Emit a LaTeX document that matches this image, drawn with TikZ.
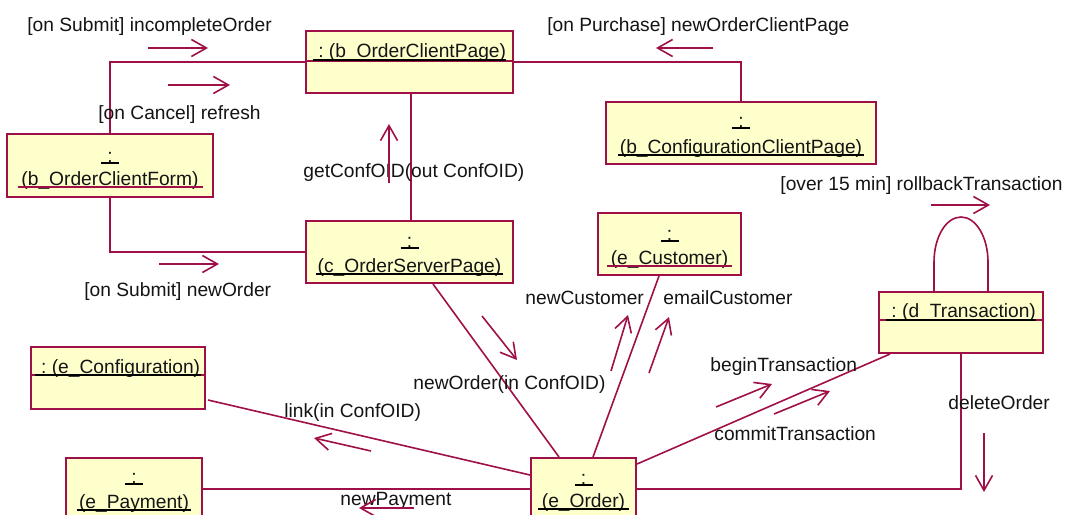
\documentclass[tikz,border=0pt]{standalone}
\usepackage{fontspec}
\setmainfont{Liberation Sans}
\usetikzlibrary{arrows.meta,calc}
\definecolor{umlred}{RGB}{160,16,72}
\definecolor{umlfill}{RGB}{255,255,204}
\definecolor{txt}{RGB}{20,20,20}
\begin{document}
\begin{tikzpicture}[x=0.5pt,y=-0.5pt,
  obj/.style={draw=umlred, fill=umlfill, line width=1pt, inner sep=0pt, anchor=center},
  lbl/.style={font=\fontsize{9.6}{11}\selectfont, text=txt, inner sep=0pt, anchor=base west},
  ttl/.style={font=\fontsize{9.6}{11}\selectfont, text=txt, inner sep=0pt, anchor=base},
  conn/.style={draw=umlred, line width=0.8pt},
  sep/.style={draw=umlred, line width=0.9pt},
  msg/.style={draw=umlred, line width=0.8pt, -{Straight Barb[length=7.5pt,width=8.5pt]}},
  ul/.style={line width=0.9pt, draw=black},
  ulr/.style={line width=0.9pt, draw=umlred},
]
\useasboundingbox (0,0) rectangle (1074,514);
\clip (0,0) rectangle (1074,514);
\fill[white] (0,0) rectangle (1074,514);

% ---------------- objects ----------------
\node[obj, minimum width=103.5pt, minimum height=31pt] (bocp) at (409.5,62) {};
\node[obj, minimum width=135pt, minimum height=31pt] (bccp) at (741,133) {};
\node[obj, minimum width=103pt, minimum height=31.5pt] (bocf) at (110,165.5) {};
\node[obj, minimum width=103.5pt, minimum height=31pt] (cosp) at (409.5,252) {};
\node[obj, minimum width=71.5pt, minimum height=31pt] (ecust) at (669.5,244) {};
\node[obj, minimum width=82pt, minimum height=30.5pt] (dtr) at (961,322.5) {};
\node[obj, minimum width=87pt, minimum height=31pt] (econf) at (118,378) {};
\node[obj, minimum width=68pt, minimum height=31pt] (epay) at (134,489) {};
\node[obj, minimum width=52.5pt, minimum height=31pt] (eord) at (583.5,489) {};

% ---------------- links ----------------
\draw[conn] (bocp.west) -| (bocf.north);
\draw[conn] (bocf.south) |- (cosp.west);
\draw[conn] (bocp.east) -| (bccp.north);
\draw[conn] ($(bocp.south)+(1.5,0)$) -- ($(cosp.north)+(1.5,0)$);
\draw[conn] ($(cosp.south)+(23.5,0)$) -- ($(eord.north)+(-24.5,0)$);
\draw[conn] ($(ecust.south)+(-10.5,0)$) -- ($(eord.north)+(9.5,0)$);
\draw[conn] ($(econf.south east)+(2,-10)$) -- ($(eord.north west)+(0,18)$);
\draw[conn] (epay.east) -- (eord.west);
\draw[conn] (eord.east) -| (dtr.south);
\draw[conn] ($(eord.north east)+(0,7)$) -- ($(dtr.south west)+(12,0)$);
\draw[conn] ($(dtr.north)+(-27,0)$) -- ++(0,-29)
  arc[start angle=180, end angle=360, x radius=27, y radius=45] -- ($(dtr.north)+(27,0)$);

% ---------------- compartment separators ----------------
\draw[sep] ($(bocp.north west)+(0,31)$) -- ($(bocp.north east)+(0,31)$);
\draw[sep] ($(dtr.north west)+(0,29)$) -- ($(dtr.north east)+(0,29)$);
\draw[sep] ($(econf.north west)+(0,29)$) -- ($(econf.north east)+(0,29)$);

% ---------------- object titles ----------------
\node[ttl] (bocpT) at (409.5,57) {\ :\ (b\_OrderClientPage)};
\draw[ul] ($(bocpT.base west)+(0,3)$) -- ($(bocpT.base east)+(0,3)$);

\node[ttl] (dtrT) at (961,317) {\ :\ (d\_Transaction)};
\draw[ul] ($(dtrT.base west)+(0,3)$) -- ($(dtrT.base east)+(0,3)$);

\node[ttl] (econfT) at (118,373) {\ :\ (e\_Configuration)};
\draw[ul] ($(econfT.base west)+(0,2)$) -- ($(econfT.base east)+(0,2)$);

\node[ttl] (bccpC) at (741,127) {:};
\draw[ul] ($(bccpC.base)+(-9,1)$) -- ($(bccpC.base)+(9,1)$);
\node[ttl] (bccpT) at (741,153) {(b\_ConfigurationClientPage)};
\draw[ul] ($(bccpT.base west)+(-1,2)$) -- ($(bccpT.base east)+(1,2)$);

\node[ttl] (bocfC) at (110,162) {:};
\draw[ul] ($(bocfC.base)+(-9,1)$) -- ($(bocfC.base)+(9,1)$);
\node[ttl] (bocfT) at (110,185) {(b\_OrderClientForm)};
\draw[ulr] ($(bocfT.base west)+(-3,2)$) -- ($(bocfT.base east)+(4,2)$);

\node[ttl] (cospC) at (409.5,247) {:};
\draw[ul] ($(cospC.base)+(-9,1)$) -- ($(cospC.base)+(9,1)$);
\node[ttl] (cospT) at (409.5,272) {(c\_OrderServerPage)};
\draw[ul] ($(cospT.base west)+(-1,2)$) -- ($(cospT.base east)+(1,2)$);

\node[ttl] (ecustC) at (669.5,240) {:};
\draw[ul] ($(ecustC.base)+(-9,1)$) -- ($(ecustC.base)+(9,1)$);
\node[ttl] (ecustT) at (669.5,264) {(e\_Customer)};
\draw[ulr] ($(ecustT.base west)+(-3,2)$) -- ($(ecustT.base east)+(3,2)$);

\node[ttl] (epayC) at (134,483) {:};
\draw[ul] ($(epayC.base)+(-9,1)$) -- ($(epayC.base)+(9,1)$);
\node[ttl] (epayT) at (134,508) {(e\_Payment)};
\draw[ul] ($(epayT.base west)+(-2,2)$) -- ($(epayT.base east)+(2,2)$);

\node[ttl] (eordC) at (583.5,484) {:};
\draw[ul] ($(eordC.base)+(-9,1)$) -- ($(eordC.base)+(9,1)$);
\node[ttl] (eordT) at (583.5,507) {(e\_Order)};
\draw[ul] ($(eordT.base west)+(-3,2)$) -- ($(eordT.base east)+(3,2)$);

% ---------------- message labels ----------------
\node[lbl] (l1) at (27,32) {[on Submit] incompleteOrder};
\node[lbl] (l2) at (98,119) {[on Cancel] refresh};
\node[lbl] (l3) at (547,32) {[on Purchase] newOrderClientPage};
\node[lbl] (l4) at (303,177) {getConfOID(out ConfOID)};
\node[lbl] (l5) at (780,190) {[over 15 min] rollbackTransaction};
\node[lbl] (l6) at (84,296) {[on Submit] newOrder};
\node[lbl] (l7) at (525,304) {newCustomer};
\node[lbl] (l8) at (663,304) {emailCustomer};
\node[lbl] (l9) at (413,389) {newOrder(in ConfOID)};
\node[lbl] (l10) at (710,371) {beginTransaction};
\node[lbl] (l11) at (714,440) {commitTransaction};
\node[lbl] (l12) at (948,409) {deleteOrder};
\node[lbl] (l13) at (284,417) {link(in ConfOID)};
\node[lbl] (l14) at (340,505) {newPayment};

% ---------------- message arrows ----------------
\coordinate (a1s) at (148,48);  \coordinate (a1e) at (208,48);
\coordinate (a2s) at (168,85);  \coordinate (a2e) at (230,85);
\coordinate (a3s) at (713,48);  \coordinate (a3e) at (656,48);
\coordinate (a4s) at (389,183); \coordinate (a4e) at (389,124);
\coordinate (a5s) at (931,205); \coordinate (a5e) at (990,205);
\coordinate (a6s) at (159,264); \coordinate (a6e) at (219,264);
\coordinate (a7s) at (482,316); \coordinate (a7e) at (517,360);
\coordinate (a8s) at (611,371); \coordinate (a8e) at (628,315);
\coordinate (a9s) at (649,373); \coordinate (a9e) at (669,317);
\coordinate (a10s) at (716,407); \coordinate (a10e) at (772,384);
\coordinate (a11s) at (774,414); \coordinate (a11e) at (830,391);
\coordinate (a12s) at (984,433); \coordinate (a12e) at (984,492);
\coordinate (a13s) at (371,451); \coordinate (a13e) at (314,438);
\coordinate (a14s) at (414,508); \coordinate (a14e) at (359,508);
\foreach \i in {1,...,14} {\draw[msg] (a\i s) -- (a\i e);}
\end{tikzpicture}
\end{document}
